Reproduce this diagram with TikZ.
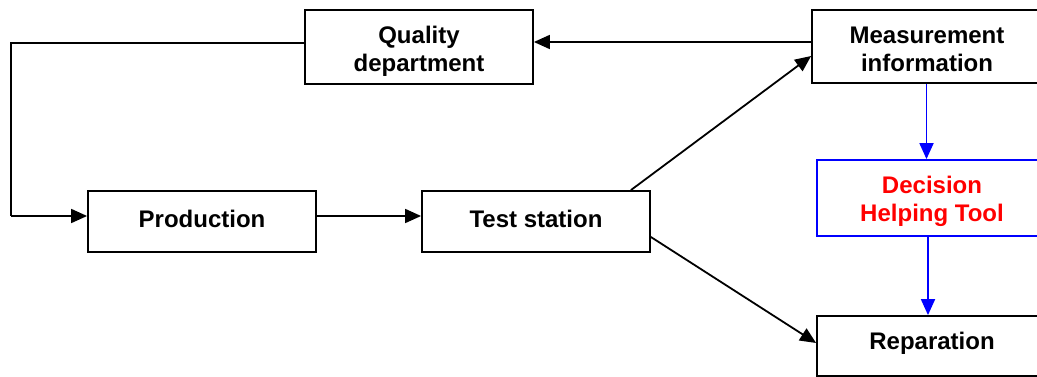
\documentclass[tikz,border=0pt]{standalone}
\usepackage{fontspec}
\setmainfont{Liberation Sans}
\usetikzlibrary{arrows.meta}
\begin{document}
\begin{tikzpicture}[x=1pt,y=-1pt,
  box/.style={draw, line width=1.8pt, rectangle, inner sep=0pt},
  txt/.style={align=center, inner sep=0pt, font=\bfseries\fontsize{24}{28}\selectfont},
  conn/.style={line width=1.8pt, -{Triangle[length=16pt,width=14pt]}},
  bluebox/.style={box, draw=blue},
  blueconn/.style={conn, draw=blue, fill=blue}]
\useasboundingbox (0,0) rectangle (1037,377);
\clip (0,0) rectangle (1037,377);
\fill[white] (0,0) rectangle (1037,377);

% boxes
\node[box, minimum width=228pt, minimum height=74pt] (Q) at (419,47) {};
\node[box, minimum width=230pt, minimum height=73pt] (M) at (927,46.5) {};
\node[bluebox, minimum width=230pt, minimum height=76pt] (D) at (932,198) {};
\node[box, minimum width=230pt, minimum height=60pt] (R) at (932,346) {};
\node[box, minimum width=228pt, minimum height=61pt] (P) at (202,221.5) {};
\node[box, minimum width=228pt, minimum height=61pt] (T) at (536,221.5) {};

% box captions
\node[txt] (Qt) at ([yshift=-4pt]Q.center) {Quality\\department};
\node[txt] (Mt) at ([yshift=-3pt]M.center) {Measurement\\information};
\node[txt, text=red] (Dt) at ([yshift=-3pt]D.center) {Decision\\Helping Tool};
\node[txt] (Rt) at ([yshift=3pt]R.center) {Reparation};
\node[txt] (Pt) at ([yshift=3pt]P.center) {Production};
\node[txt] (Tt) at ([yshift=3pt]T.center) {Test station};

\coordinate (c1) at (11,43);
\coordinate (c2) at (11,216);

% connectors
\draw[line width=1.8pt] ([yshift=4pt]Q.west) -- (c1) -- (c2);
\draw[conn] (c2) -- ([yshift=5.5pt]P.west);
\draw[conn] ([yshift=5.5pt]P.east) -- ([yshift=5.5pt]T.west);
\draw[conn] ([yshift=4.5pt]M.west) -- ([yshift=5pt]Q.east);
\draw[conn] ([xshift=-20pt]T.north east) -- ([yshift=-9.5pt]M.west);
\draw[conn] ([yshift=-15.5pt]T.east) -- ([yshift=3pt]R.west);
\draw[blueconn] ([xshift=-0.5pt]M.south) -- ([xshift=-0.5pt]M.south |- D.north);
\draw[blueconn] ([xshift=-4pt]D.south) -- ([xshift=-4pt]D.south |- R.north);
\end{tikzpicture}
\end{document}
